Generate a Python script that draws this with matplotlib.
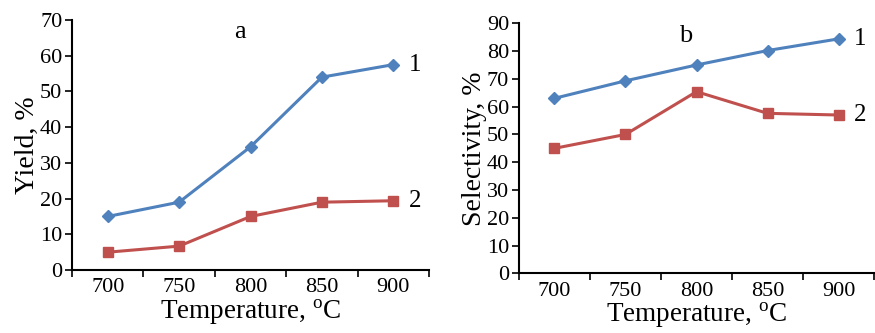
import matplotlib.pyplot as plt
import numpy as np

plt.rcParams['font.family'] = 'Liberation Serif'
plt.rcParams['mathtext.fontset'] = 'custom'
plt.rcParams['mathtext.rm'] = 'Liberation Serif'

temps = ['700', '750', '800', '850', '900']
yield_1 = [15, 19, 34.5, 54, 57.5]
yield_2 = [5, 6.7, 15, 19, 19.4]
select_1 = [63, 69.3, 75, 80.2, 84.4]
select_2 = [45, 50, 65.4, 57.6, 57]

blue = '#4F81BD'
red = '#C0504D'

fig = plt.figure(figsize=(8.75, 3.33), dpi=100)
ax_a = fig.add_axes([0.0823, 0.189, 0.408, 0.751])
ax_b = fig.add_axes([0.593, 0.179, 0.406, 0.751])


def draw(ax, s1, s2, ymax, ylabel, letter):
    x = np.arange(len(temps))
    ax.plot(x, s1, color=blue, lw=2.2, marker='D', ms=6, mfc=blue, mec=blue)
    ax.plot(x, s2, color=red, lw=2.2, marker='s', ms=7.5, mfc=red, mec=red)
    ax.text(x[-1] + 0.22, s1[-1], '1', fontsize=18, va='center', ha='left')
    ax.text(x[-1] + 0.22, s2[-1], '2', fontsize=18, va='center', ha='left')
    ax.set_xlim(-0.5, len(temps) - 0.5)
    ax.set_ylim(0, ymax)
    ax.set_yticks(np.arange(0, ymax + 1, 10))
    ax.set_xticks(x)
    ax.set_xticklabels(temps)
    ax.set_xticks(np.arange(-0.5, len(temps), 1), minor=True)
    ax.tick_params(axis='x', which='major', length=0, labelsize=16, pad=6)
    ax.tick_params(axis='x', which='minor', length=5, width=1.2, direction='out')
    ax.tick_params(axis='y', length=5, width=1.2, direction='out', labelsize=16, pad=2)
    for side in ['top', 'right']:
        ax.spines[side].set_visible(False)
    for side in ['left', 'bottom']:
        ax.spines[side].set_linewidth(1.5)
    ax.set_xlabel('Temperature, $^{\\rm o}$C', fontsize=19.5, labelpad=0)
    ax.set_ylabel(ylabel, fontsize=20, labelpad=0)
    ax.text(0.47, 0.95, letter, transform=ax.transAxes, fontsize=19, ha='center', va='center')


draw(ax_a, yield_1, yield_2, 70, 'Yield, %', 'a')
draw(ax_b, select_1, select_2, 90, 'Selectivity, %', 'b')

fig.savefig('out.png', dpi=100)
